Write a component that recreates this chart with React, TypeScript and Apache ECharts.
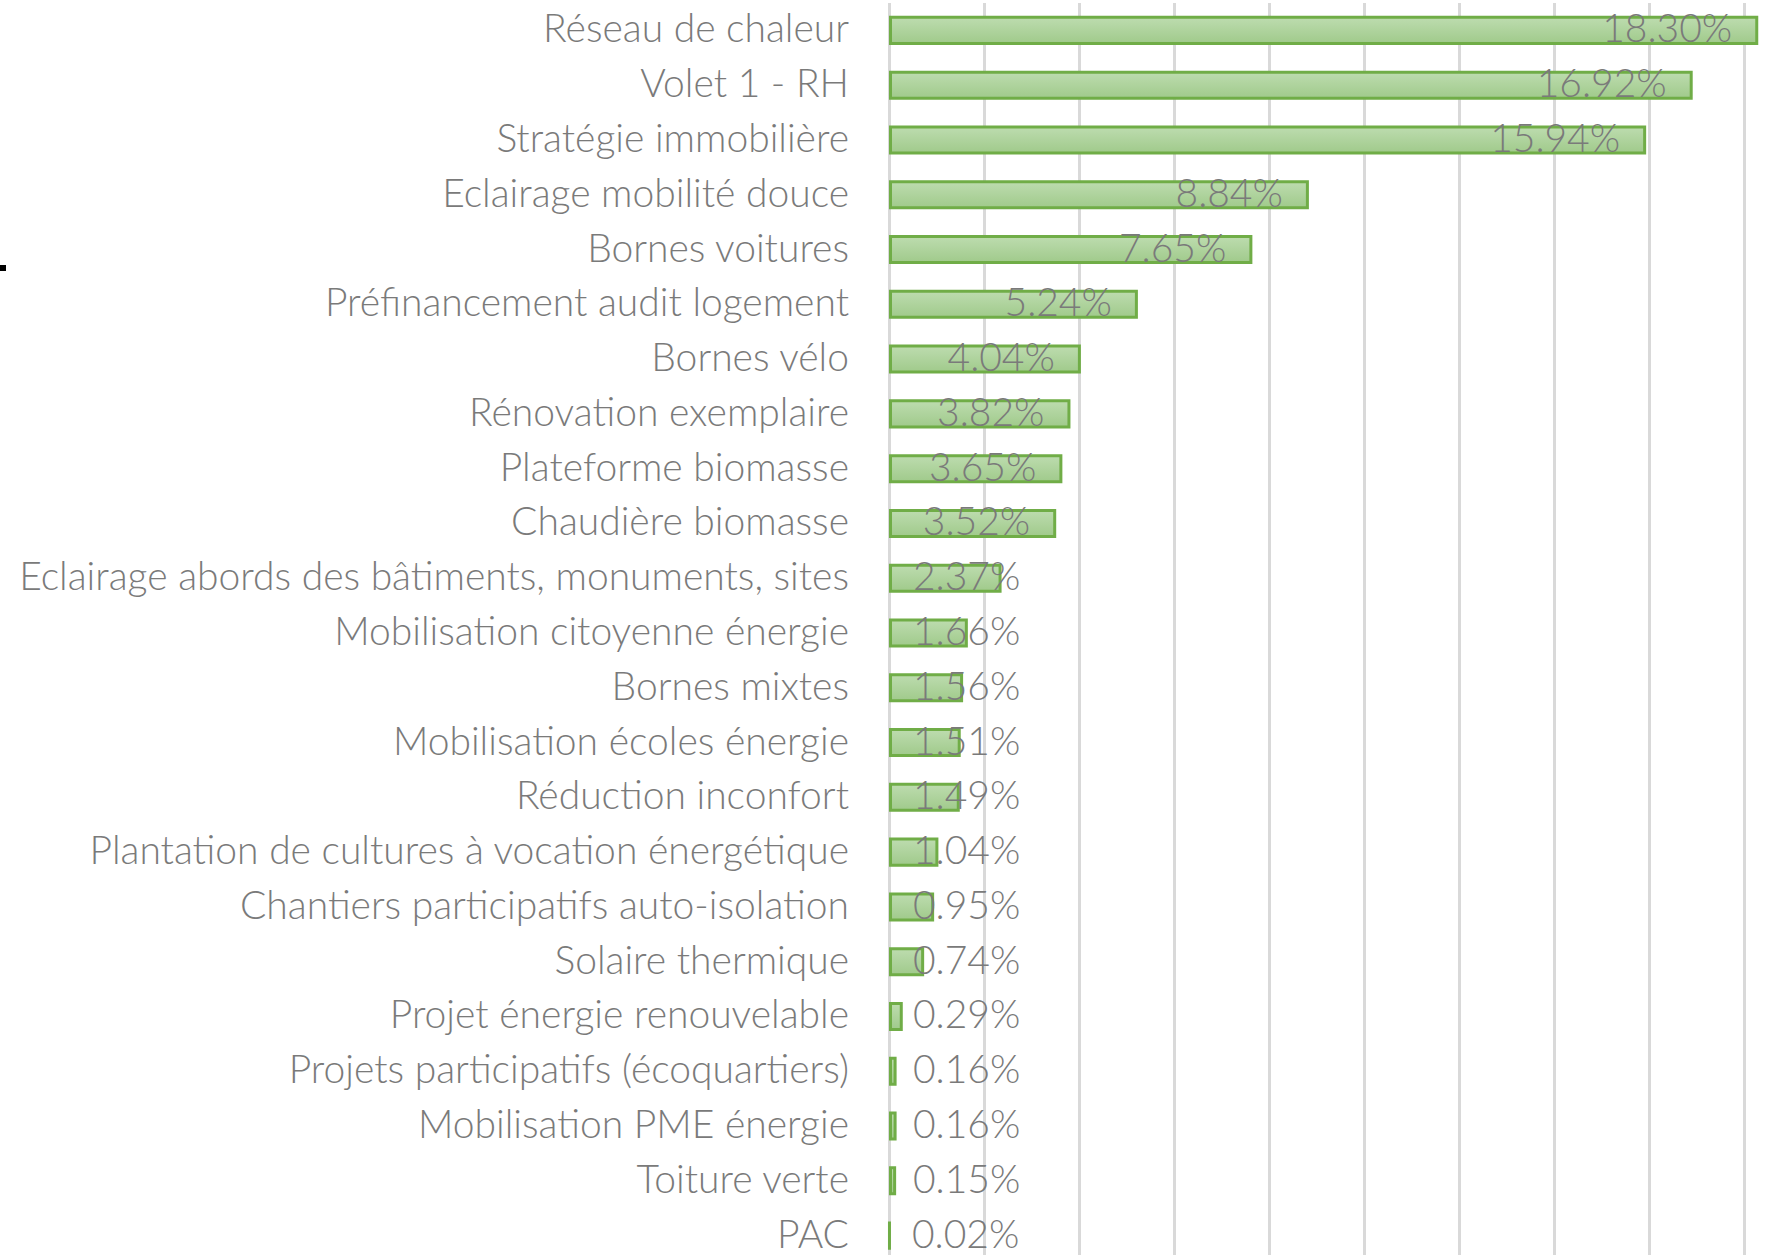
import React, { useEffect, useRef } from "react";
import * as echarts from "echarts";

const categories: string[] = [
  "Réseau de chaleur",
  "Volet 1 - RH",
  "Stratégie immobilière",
  "Eclairage mobilité douce",
  "Bornes voitures",
  "Préfinancement audit logement",
  "Bornes vélo",
  "Rénovation exemplaire",
  "Plateforme biomasse",
  "Chaudière biomasse",
  "Eclairage abords des bâtiments, monuments, sites",
  "Mobilisation citoyenne énergie",
  "Bornes mixtes",
  "Mobilisation écoles énergie",
  "Réduction inconfort",
  "Plantation de cultures à vocation énergétique",
  "Chantiers participatifs auto-isolation",
  "Solaire thermique",
  "Projet énergie renouvelable",
  "Projets participatifs (écoquartiers)",
  "Mobilisation PME énergie",
  "Toiture verte",
  "PAC",
];

const shares: number[] = [
  18.3, 16.92, 15.94, 8.84, 7.65, 5.24, 4.04, 3.82, 3.65, 3.52, 2.37, 1.66,
  1.56, 1.51, 1.49, 1.04, 0.95, 0.74, 0.29, 0.16, 0.16, 0.15, 0.02,
];

const axisMin = 0;
const axisMax = 20;
const axisStep = 2;

const FONT = "Lato, 'Liberation Sans', Arial, sans-serif";
const GREY = "#7a7a7a";

export default function App() {
  const ref = useRef<HTMLDivElement>(null);

  useEffect(() => {
    if (!ref.current) return;
    const chart = echarts.init(ref.current, undefined, { renderer: "svg" });

    const data = shares.map((v) => ({
      value: v,
      label:
        v >= 3.3
          ? { position: "insideRight", distance: 26 }
          : { position: "insideLeft", distance: 24 },
    }));

    chart.setOption({
      animation: false,
      backgroundColor: "#ffffff",
      grid: { left: 889, right: 0, top: 3, bottom: 0, containLabel: false },
      xAxis: {
        type: "value",
        min: axisMin,
        max: axisMax,
        interval: axisStep,
        axisLabel: { show: false },
        axisLine: { show: false },
        axisTick: { show: false },
        splitLine: { show: true, lineStyle: { color: "#d9d9d9", width: 3 } },
      },
      yAxis: {
        type: "category",
        inverse: true,
        data: categories,
        axisLine: { show: false },
        axisTick: { show: false },
        axisLabel: {
          margin: 40,
          formatter: (v: string) => "{c|" + v + "}",
          rich: {
            c: {
              fontFamily: FONT,
              fontWeight: 300,
              fontSize: 39,
              lineHeight: 34,
              padding: [0, 0, 6, 0],
              color: GREY,
            },
          },
        },
      },
      series: [
        {
          type: "bar",
          data,
          barWidth: "53%",
          itemStyle: {
            color: new echarts.graphic.LinearGradient(0, 0, 0, 1, [
              { offset: 0, color: "#bddcaf" },
              { offset: 1, color: "#a0ca8b" },
            ]),
            borderColor: "#70ad47",
            borderWidth: 3,
          },
          label: {
            show: true,
            fontFamily: FONT,
            fontWeight: 300,
            fontSize: 39,
            lineHeight: 34,
            offset: [0, -3],
            color: GREY,
            formatter: (p: any) => Number(p.value).toFixed(2) + "%",
          },
        },
      ],
      graphic: [
        {
          type: "rect",
          left: 0,
          top: 265,
          shape: { width: 6, height: 6 },
          style: { fill: "#000000" },
        },
      ],
    });

    return () => chart.dispose();
  }, []);

  return (
    <div
      style={{
        position: "absolute",
        left: 0,
        top: 0,
        width: 1768,
        height: 1255,
        overflow: "hidden",
        background: "#ffffff",
      }}
    >
      <div ref={ref} style={{ width: 1839, height: 1263 }} />
    </div>
  );
}
